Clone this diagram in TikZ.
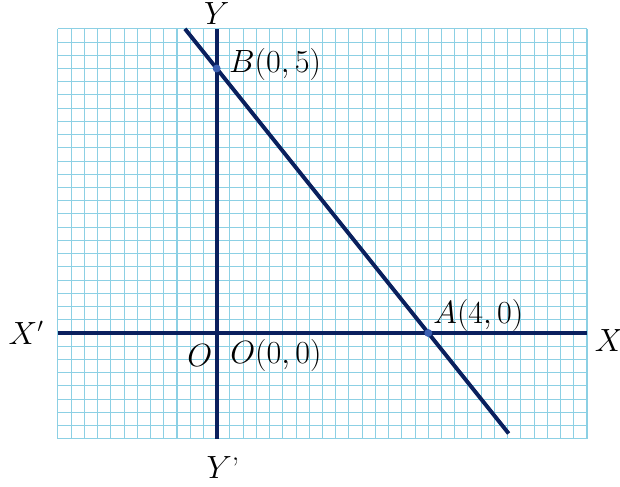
\documentclass[tikz,border=0pt]{standalone}
\usepackage{fontspec}
\definecolor{navy}{RGB}{10,32,94}
\definecolor{gridblue}{RGB}{140,208,228}
\definecolor{dotblue}{RGB}{60,96,178}
\tikzset{
    gridln/.style={draw=gridblue, line width=0.55pt},
    axis/.style={draw=navy, line width=2.3pt},
    graphln/.style={draw=navy, line width=2.1pt},
    pt/.style={circle, fill=dotblue, inner sep=0pt, minimum size=0.15cm},
    lbl/.style={font=\fontsize{16}{19}\selectfont, inner sep=0pt},
  }
\begin{document}
\begin{tikzpicture}
        \useasboundingbox (-4.096,-2.892) rectangle (7.624,6.295);
        % graph paper
        \draw[gridln, step=0.25] (-3,-2) grid (7,5.75);
        % axes
        \coordinate (xl) at (-3,0);
        \coordinate (xr) at (7,0);
        \coordinate (yt) at (0,5.75);
        \coordinate (yb) at (0,-2);
        \draw[axis] (xl) -- (xr);
        \draw[axis] (yb) -- (yt);
        % the line through A and B
        \coordinate (top) at (-0.6,5.75);
        \coordinate (bot) at (5.52,-1.9);
        \draw[graphln] (top) -- (bot);
        \node[pt] (B) at (0,5) {};
        \node[pt] (A) at (4,0) {};
        % labels
        \node[lbl] (ylab) at (0,6.03) {$Y$};
        \node[lbl] (yplab) at (0.12,-2.55) {$Y$’};
        \node[lbl] (xplab) at (-3.6,0) {$X'$};
        \node[lbl, anchor=west] (xlab) at (7.14,-0.15) {$X$};
        \node[lbl, anchor=west] (blab) at (0.23,5.07) {$B(0,5)$};
        \node[lbl, anchor=west] (alab) at (4.09,0.34) {$A(4,0)$};
        \node[lbl] (olab) at (-0.32,-0.43) {$O$};
        \node[lbl, anchor=west] (oolab) at (0.25,-0.43) {$O(0,0)$};
    \end{tikzpicture}
\end{document}
